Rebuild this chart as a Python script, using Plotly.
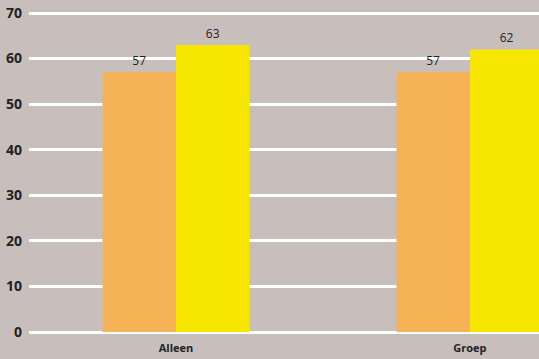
import plotly.graph_objects as go

categories = ["Alleen", "Groep"]
series_a = [57, 57]
series_b = [63, 62]
y_ticks = [0, 10, 20, 30, 40, 50, 60, 70]

bg = "#C8BFBD"
fig = go.Figure()
fig.add_trace(go.Bar(x=categories, y=series_a, marker_color="#F5B256", marker_line_width=0,
                     text=[str(v) for v in series_a], textposition="outside",
                     textfont=dict(family="Open Sans", size=12, color="#222"), cliponaxis=False))
fig.add_trace(go.Bar(x=categories, y=series_b, marker_color="#F7E600", marker_line_width=0,
                     text=[str(v) for v in series_b], textposition="outside",
                     textfont=dict(family="Open Sans", size=12, color="#222"), cliponaxis=False))

fig.update_layout(
    width=539, height=359,
    margin=dict(l=29, r=0, t=10, b=27, autoexpand=False),
    paper_bgcolor=bg, plot_bgcolor=bg,
    barmode="group", bargap=0.5, bargroupgap=0,
    showlegend=False,
    xaxis=dict(range=[-0.5, 1.235], showgrid=False, zeroline=False, showline=False,
               tickfont=dict(family="Open Sans", size=11, color="#222", weight="bold"),
               ticks="", ticklabelstandoff=8),
    yaxis=dict(range=[0, 70.66], tickvals=y_ticks, showgrid=True, gridcolor="white", gridwidth=3,
               zeroline=True, zerolinecolor="white", zerolinewidth=3, showline=False,
               tickfont=dict(family="Open Sans", size=14, color="#222", weight="bold"),
               ticks="", ticklabelstandoff=6),
    uniformtext=dict(minsize=12, mode="show"),
)
fig.write_html("out.html", config={"displayModeBar": False},
               post_script="document.body.style.margin='0';document.body.style.overflow='hidden';")
